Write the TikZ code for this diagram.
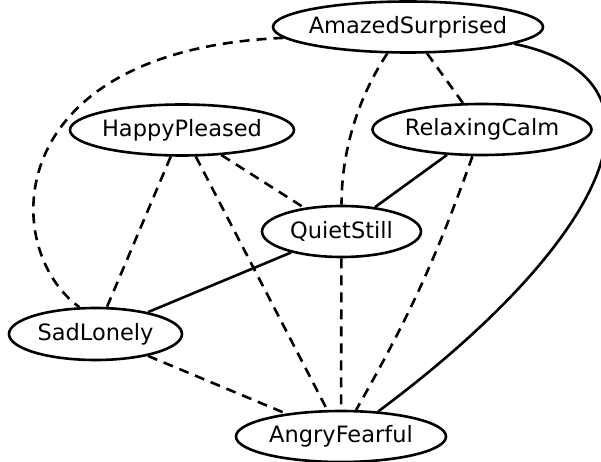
\documentclass[tikz,border=0pt]{standalone}
\usepackage{fontspec}
\setmainfont{DejaVu Sans}
\usetikzlibrary{shapes.geometric}
\begin{document}
\begin{tikzpicture}[x=1pt,y=-1pt,
  state/.style={draw, ellipse, line width=2.6pt, inner xsep=-30pt, inner ysep=0pt,
    minimum height=51pt, font=\fontsize{22.5}{27}\selectfont},
  link/.style={line width=2.6pt},
  dlink/.style={link, dash pattern=on 10pt off 7pt}]
  % canvas
  \fill[white] (0,0) rectangle (601,462);
  \useasboundingbox (0,0) rectangle (601,462);
  \clip (0,0) rectangle (601,462);

  % states
  \node[state, minimum width=270pt] (as) at (408,27)    {AmazedSurprised};
  \node[state, minimum width=224pt] (hp) at (182,130)   {HappyPleased};
  \node[state, minimum width=219pt] (rc) at (482,129.5) {RelaxingCalm};
  \node[state, minimum width=159pt] (qs) at (341.5,231.5) {QuietStill};
  \node[state, minimum width=173pt, minimum height=52pt] (sl) at (95.5,334) {SadLonely};
  \node[state, minimum width=210pt] (af) at (341,436.5) {AngryFearful};

  % solid links
  \draw[link] (rc) -- (qs);
  \draw[link] (qs) -- (sl);
  \draw[link] (as.351) .. controls +(177,37) and +(218,-162) .. (af.34);

  % dashed links
  \draw[dlink] (as.185) .. controls +(-285,12) and +(-80,-58) .. (sl.121);
  \draw[dlink] (as.232) .. controls +(-28,42) and +(0,-56) .. (qs.north);
  \draw[dlink] (as) -- (rc);
  \draw[dlink] (hp) -- (sl);
  \draw[dlink] (hp) -- (qs);
  \draw[dlink] (hp) -- (af);
  \draw[dlink] (rc) to[bend left=5] (af);
  \draw[dlink] (qs) -- (af);
  \draw[dlink] (sl) -- (af);
\end{tikzpicture}
\end{document}
